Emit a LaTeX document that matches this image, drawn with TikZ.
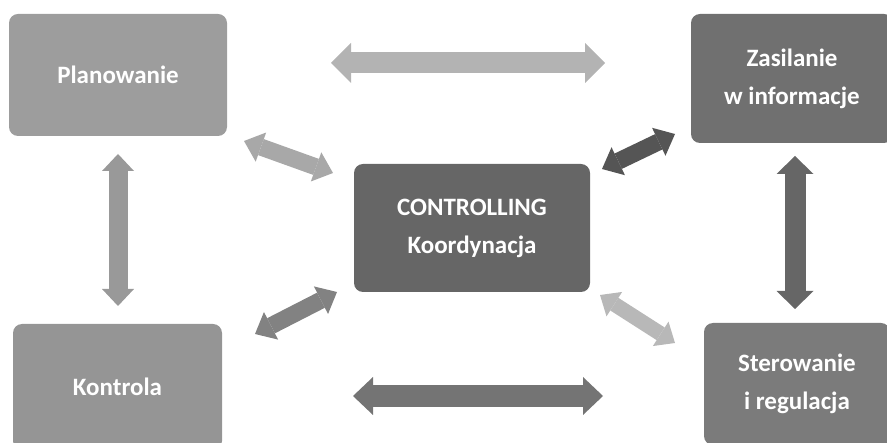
\documentclass[tikz,border=0pt]{standalone}
\usepackage{fontspec}
\setmainfont{Carlito}
\usetikzlibrary{arrows.meta}
\definecolor{cPlan}{HTML}{9D9D9D}
\definecolor{cKontr}{HTML}{959595}
\definecolor{cZas}{HTML}{707070}
\definecolor{cSter}{HTML}{7B7B7B}
\definecolor{cCtrl}{HTML}{666666}
\definecolor{aTop}{HTML}{B3B3B3}
\definecolor{aLeft}{HTML}{999999}
\definecolor{aPlan}{HTML}{A8A8A8}
\definecolor{aZas}{HTML}{555555}
\definecolor{aRight}{HTML}{666666}
\definecolor{aKontr}{HTML}{828282}
\definecolor{aSter}{HTML}{B8B8B8}
\definecolor{aBot}{HTML}{747474}
\begin{document}
\begin{tikzpicture}[x=1pt,y=-1pt,
  box/.style={rounded corners=9pt, text=white, align=center, inner sep=0pt,
    font=\bfseries\fontsize{25}{38}\selectfont},
  fatarrow/.style n args={4}{line width=#1, draw=#4,
    {Triangle[length=#3,width=#2,line width=0pt]}-{Triangle[length=#3,width=#2,line width=0pt]}}]
\useasboundingbox (0,0) rectangle (887,443);
\clip (0,0) rectangle (887,443);
\node[box, fill=cPlan, minimum width=218pt, minimum height=122pt] (plan) at (118,75) {Planowanie};
\node[box, fill=cZas, minimum width=202pt, minimum height=129pt] (zas) at (792,78.5) {Zasilanie\\w informacje};
\node[box, fill=cCtrl, minimum width=236pt, minimum height=128pt] (ctrl) at (472,228) {CONTROLLING\\Koordynacja};
\node[box, fill=cKontr, minimum width=209pt, minimum height=126pt] (kontr) at (117.5,387) {Kontrola};
\node[box, fill=cSter, minimum width=186pt, minimum height=122pt] (ster) at (797,384) {Sterowanie\\i regulacja};
% arrow end points
\coordinate (t1) at (331,63);  \coordinate (t2) at (605,63);
\coordinate (l1) at (118,154); \coordinate (l2) at (118,306);
\coordinate (p1) at (244,141); \coordinate (p2) at (333,173);
\coordinate (z1) at (602,169); \coordinate (z2) at (675,134);
\coordinate (r1) at (795,156); \coordinate (r2) at (795,309);
\coordinate (k1) at (255,334); \coordinate (k2) at (337,292);
\coordinate (s1) at (600,295); \coordinate (s2) at (675,343);
\coordinate (b1) at (353,396); \coordinate (b2) at (603,396);
\draw[fatarrow={21pt}{40pt}{20pt}{aTop}] (t1) -- (t2);
\draw[fatarrow={19pt}{32pt}{17pt}{aLeft}] (l1) -- (l2);
\draw[fatarrow={17pt}{31pt}{18pt}{aPlan}] (p1) -- (p2);
\draw[fatarrow={17pt}{31pt}{18pt}{aZas}] (z1) -- (z2);
\draw[fatarrow={21pt}{37pt}{18pt}{aRight}] (r1) -- (r2);
\draw[fatarrow={17pt}{31pt}{18pt}{aKontr}] (k1) -- (k2);
\draw[fatarrow={15pt}{29pt}{17pt}{aSter}] (s1) -- (s2);
\draw[fatarrow={22pt}{38pt}{20pt}{aBot}] (b1) -- (b2);
\end{tikzpicture}
\end{document}
